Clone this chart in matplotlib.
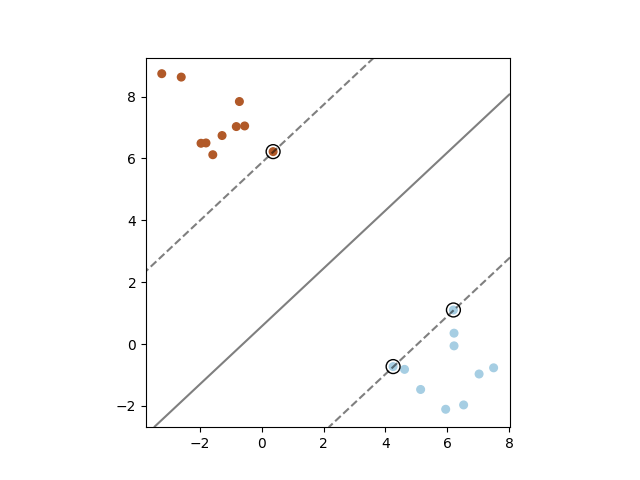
import numpy as np
import matplotlib
matplotlib.use("Agg")
import matplotlib.pyplot as plt

# class 1 (brown) points
x1 = [-3.23, -2.60, -0.72, -0.82, -0.55, -1.28, -1.96, -1.80, -1.58, 0.37]
y1 = [8.74, 8.63, 7.84, 7.03, 7.05, 6.74, 6.49, 6.50, 6.12, 6.22]
# class 0 (light blue) points
x0 = [6.20, 4.25, 4.62, 6.22, 6.22, 5.14, 5.95, 6.53, 7.03, 7.50]
y0 = [1.10, -0.73, -0.82, 0.35, -0.06, -1.47, -2.11, -1.97, -0.97, -0.77]
# support vectors
sv_x = [0.37, 4.25, 6.20]
sv_y = [6.22, -0.73, 1.10]
# linear decision function f = w0*x + w1*y + b
w = [0.177, -0.189]
b = 0.1075
levels = [-1, 0, 1]

X = np.array(x0 + x1)
Y = np.array(y0 + y1)
labels = np.array([0] * len(x0) + [1] * len(x1))

fig, ax = plt.subplots(figsize=(6.4, 4.8), dpi=100)
ax.scatter(X, Y, c=labels, s=30, cmap=plt.cm.Paired)

xlim = (-3.74, 8.03)
ylim = (-2.69, 9.26)
xx = np.linspace(xlim[0], xlim[1], 30)
yy = np.linspace(ylim[0], ylim[1], 30)
XX, YY = np.meshgrid(xx, yy)
Z = w[0] * XX + w[1] * YY + b
ax.contour(XX, YY, Z, colors='k', levels=levels, alpha=0.5,
           linestyles=['--', '-', '--'])
ax.scatter(sv_x, sv_y, s=100, linewidth=1, facecolors='none', edgecolors='k')
ax.set_xlim(xlim)
ax.set_ylim(ylim)
ax.set_aspect('equal')
fig.savefig("out.png")
